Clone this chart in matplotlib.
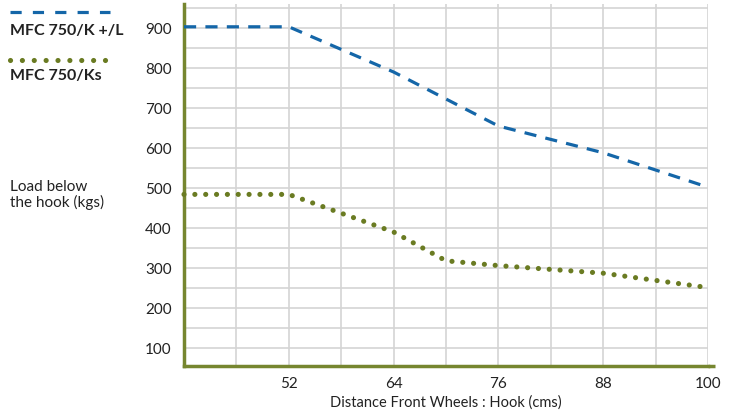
import matplotlib.pyplot as plt
from matplotlib.lines import Line2D

# --- data ---
dist_k = [40, 52, 64, 76, 88, 100]
load_k = [903, 903, 790, 655, 588, 502]

dist_ks = [40, 52, 64, 70, 76, 88, 100]
load_ks = [484, 484, 390, 318, 306, 287, 251]

x_ticks = [52, 64, 76, 88, 100]
y_ticks = [100, 200, 300, 400, 500, 600, 700, 800, 900]

BLUE = '#1466a8'
OLIVE = '#6a7b22'
SPINE = '#76862f'
GRID = '#d4d4d4'
TXT = '#222222'

plt.rcParams['font.family'] = ['Lato', 'DejaVu Sans']

fig = plt.figure(figsize=(7.33, 4.14), dpi=100)
ax = fig.add_axes([184 / 733, 1 - 367 / 414, (708 - 184) / 733, (367 - 5) / 414])

ax.plot(dist_k, load_k, color=BLUE, lw=2.3, linestyle=(0, (3.8, 2.9)),
        dash_capstyle='butt', zorder=3, clip_on=False)
ax.plot(dist_ks, load_ks, color=OLIVE, lw=3.7, linestyle=(0, (0.01, 2.1)),
        dash_capstyle='round', zorder=3, clip_on=False)

ax.set_xlim(40, 100)
ax.set_ylim(55, 960)

ax.set_xticks(x_ticks)
ax.set_yticks(y_ticks)
ax.set_xticks(range(46, 101, 6), minor=True)
ax.set_yticks(range(100, 951, 50), minor=True)
ax.grid(True, which='both', color=GRID, lw=1.2)
ax.set_axisbelow(True)

ax.tick_params(which='both', length=0)
ax.tick_params(axis='y', pad=9, labelsize=11, labelcolor=TXT)
ax.tick_params(axis='x', pad=7, labelsize=11, labelcolor=TXT)

for s in ['top', 'right']:
    ax.spines[s].set_visible(False)
for s in ['left', 'bottom']:
    ax.spines[s].set_color(SPINE)
    ax.spines[s].set_linewidth(2.5)
# bottom axis line runs a little past the last gridline
ax.plot([1, 1.013], [0, 0], transform=ax.transAxes, color=SPINE, lw=2.5,
        clip_on=False, solid_capstyle='butt')

ax.set_xlabel('Distance Front Wheels : Hook (cms)', fontsize=10.5, color=TXT, labelpad=3)

fig.text(10 / 733, 1 - 195 / 414, 'Load below\nthe hook (kgs)', fontsize=11,
         color=TXT, ha='left', va='center', linespacing=1.1)

# legend drawn at the top-left, outside the axes
fig.add_artist(Line2D([10 / 733, 110 / 733], [1 - 13 / 414] * 2, color=BLUE, lw=2.3,
                      linestyle=(0, (3.5, 3.5)), transform=fig.transFigure))
fig.text(10 / 733, 1 - 31 / 414, 'MFC 750/K +/L', fontsize=11.5, fontweight='bold',
         color=TXT, ha='left', va='center')
fig.add_artist(Line2D([10 / 733, 112 / 733], [1 - 61 / 414] * 2, color=OLIVE, lw=3.7,
                      linestyle=(0, (0.01, 2.3)), dash_capstyle='round',
                      transform=fig.transFigure))
fig.text(10 / 733, 1 - 76 / 414, 'MFC 750/Ks', fontsize=11.5, fontweight='bold',
         color=TXT, ha='left', va='center')

fig.savefig('out.png', dpi=100)
